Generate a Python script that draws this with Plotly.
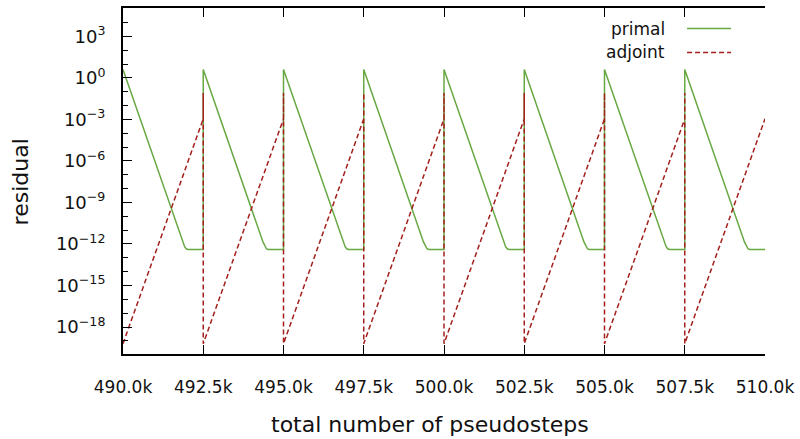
import plotly.graph_objects as go

# ---- data ----
primal_steps = [
    490000, 491860, 491920, 491970, 492020, 492500,
    492500, 494360, 494420, 494470, 494520, 495000,
    495000, 496860, 496920, 496970, 497020, 497500,
    497500, 499360, 499420, 499470, 499520, 500000,
    500000, 501860, 501920, 501970, 502020, 502500,
    502500, 504360, 504420, 504470, 504520, 505000,
    505000, 506860, 506920, 506970, 507020, 507500,
    507500, 509360, 509420, 509470, 509520, 510000,
]
primal_residual = [
    4.0, 1.4e-12, 6.3e-13, 4.5e-13, 4.0e-13, 4.0e-13,
    4.0, 1.4e-12, 6.3e-13, 4.5e-13, 4.0e-13, 4.0e-13,
    4.0, 1.4e-12, 6.3e-13, 4.5e-13, 4.0e-13, 4.0e-13,
    4.0, 1.4e-12, 6.3e-13, 4.5e-13, 4.0e-13, 4.0e-13,
    4.0, 1.4e-12, 6.3e-13, 4.5e-13, 4.0e-13, 4.0e-13,
    4.0, 1.4e-12, 6.3e-13, 4.5e-13, 4.0e-13, 4.0e-13,
    4.0, 1.4e-12, 6.3e-13, 4.5e-13, 4.0e-13, 4.0e-13,
    4.0, 1.4e-12, 6.3e-13, 4.5e-13, 4.0e-13, 4.0e-13,
]
adjoint_steps = [
    490000, 492500, 492500,
    492500, 495000, 495000,
    495000, 497500, 497500,
    497500, 500000, 500000,
    500000, 502500, 502500,
    502500, 505000, 505000,
    505000, 507500, 507500,
    507500, 510000,
]
adjoint_residual = [
    6.3e-20, 1.1e-3, 8.0e-2,
    6.3e-20, 1.1e-3, 8.0e-2,
    6.3e-20, 1.1e-3, 8.0e-2,
    6.3e-20, 1.1e-3, 8.0e-2,
    6.3e-20, 1.1e-3, 8.0e-2,
    6.3e-20, 1.1e-3, 8.0e-2,
    6.3e-20, 1.1e-3, 8.0e-2,
    6.3e-20, 1.1e-3,
]

x_tick_vals = [490000, 492500, 495000, 497500, 500000, 502500, 505000, 507500, 510000]
x_tick_text = ["490.0k", "492.5k", "495.0k", "497.5k", "500.0k", "502.5k", "505.0k", "507.5k", "510.0k"]
y_tick_exp = [3, 0, -3, -6, -9, -12, -15, -18]
y_minor_exp = list(range(-19, 5))

y_tick_vals = [10.0 ** e for e in y_tick_exp]
y_tick_text = ["10<sup>%s</sup>" % (str(e) if e >= 0 else "\u2212" + str(-e)) for e in y_tick_exp]
y_minor_vals = [10.0 ** e for e in y_minor_exp]

GREEN = "#68a842"
RED = "#a3201c"
FONT = "DejaVu Sans"

fig = go.Figure()
fig.add_trace(go.Scatter(x=primal_steps, y=primal_residual, mode="lines", name="primal",
                         line=dict(color=GREEN, width=1.5), showlegend=False))
fig.add_trace(go.Scatter(x=adjoint_steps, y=adjoint_residual, mode="lines", name="adjoint",
                         line=dict(color=RED, width=1.5, dash="5px,3px"), showlegend=False))

yrange = [-19.95, 5.05]
fig.update_layout(
    width=800, height=439,
    margin=dict(l=123, r=34, t=6, b=85),
    paper_bgcolor="white", plot_bgcolor="white",
    font=dict(family=FONT, color="#111", size=15),
    xaxis=dict(
        range=[490000, 510000], showgrid=False, zeroline=False,
        showline=True, linecolor="black", linewidth=2, mirror="ticks",
        ticks="inside", ticklen=9, tickwidth=1, tickcolor="black",
        tickvals=x_tick_vals, ticktext=x_tick_text, ticklabelstandoff=17,
        tickfont=dict(size=17, family=FONT),
    ),
    yaxis=dict(
        type="log", range=yrange, showgrid=False, zeroline=False,
        showline=True, linecolor="black", linewidth=2, mirror=False,
        ticks="inside", ticklen=9, tickwidth=1, tickcolor="black",
        tickvals=y_tick_vals, ticktext=y_tick_text, ticklabelstandoff=12,
        tickfont=dict(size=18, family=FONT),
        minor=dict(tickvals=y_minor_vals, ticks="inside", ticklen=5, tickwidth=1, tickcolor="black", showgrid=False),
    ),
    yaxis2=dict(
        type="log", range=yrange, overlaying="y", side="right", anchor="x",
        showgrid=False, zeroline=False, showline=True, linecolor="#c8c8c8", linewidth=1.5,
        ticks="inside", ticklen=9, tickwidth=1, tickcolor="#333",
        tickvals=y_tick_vals, showticklabels=False,
        minor=dict(tickvals=y_minor_vals, ticks="inside", ticklen=5, tickwidth=1, tickcolor="#333", showgrid=False),
    ),
)

# axis titles
fig.add_annotation(x=0.4786, y=-0.2042, xref="paper", yref="paper", text="total number of pseudosteps",
                   showarrow=False, xanchor="center", yanchor="middle", font=dict(size=22, family=FONT, color="#111"))
fig.add_annotation(x=-0.1595, y=0.4976, xref="paper", yref="paper", text="residual", textangle=-90,
                   showarrow=False, xanchor="center", yanchor="middle", font=dict(size=22, family=FONT, color="#111"))

# legend (text left of the sample line, as in the reference)
legend_items = [("primal", GREEN, "solid", 0.9405), ("adjoint", RED, "5px,3px", 0.8714)]
for label, color, dash, yp in legend_items:
    fig.add_annotation(x=0.8475, y=yp, xref="paper", yref="paper", text=label, showarrow=False,
                       xanchor="right", yanchor="middle", font=dict(size=17, family=FONT, color="#111"))
    fig.add_shape(type="line", xref="paper", yref="paper", x0=0.8786, x1=0.9471, y0=yp, y1=yp,
                  line=dict(color=color, width=1.5, dash=dash))

fig.write_html("out.html")
